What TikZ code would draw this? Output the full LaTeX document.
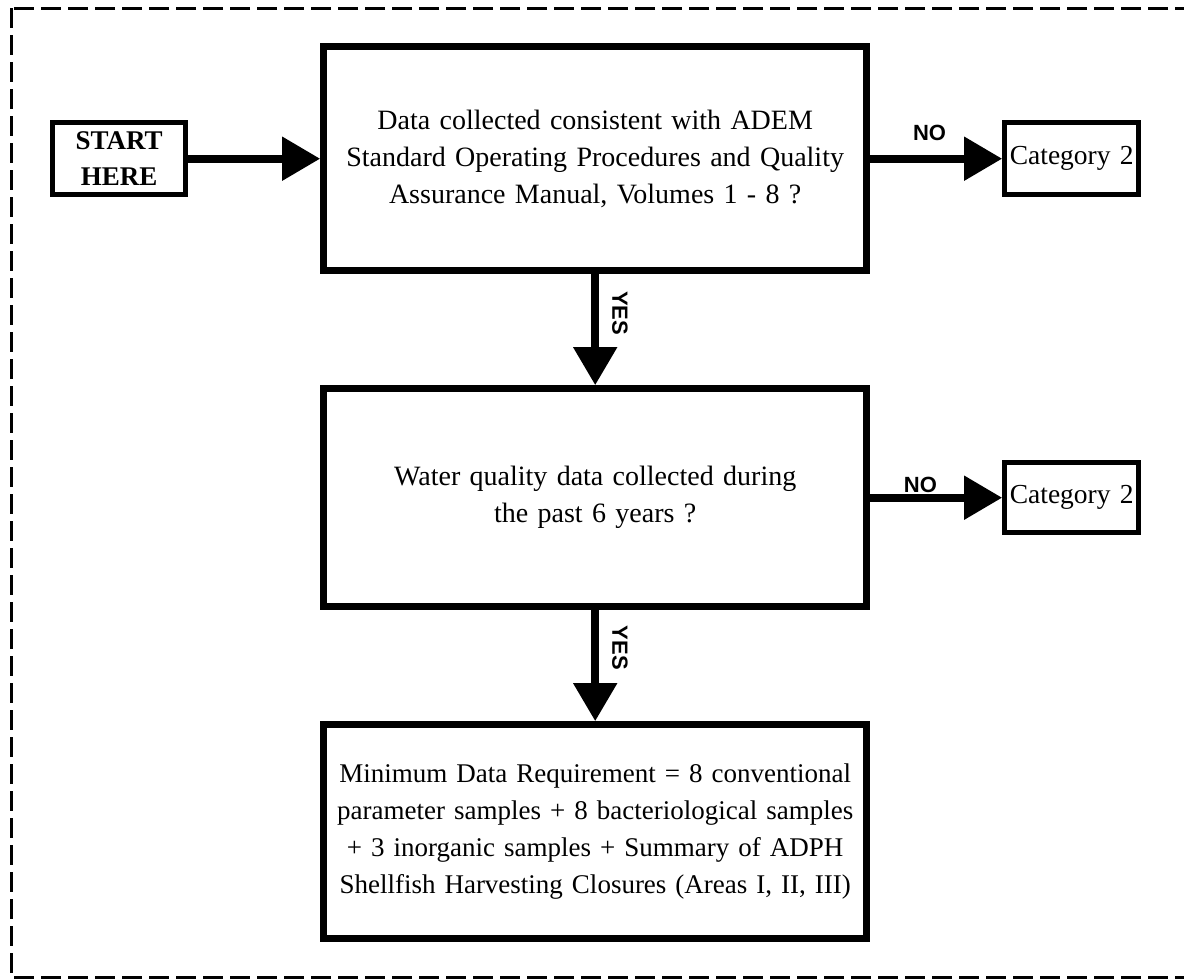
\documentclass[tikz,border=0pt]{standalone}
\usepackage{fontspec}
\setmainfont{Liberation Serif}
\newfontfamily\labelfont{Liberation Sans}
\usepackage{tikz}
\usetikzlibrary{matrix}
\usetikzlibrary{arrows.meta}

\tikzset{
  bigbox/.style={draw, line width=7pt, minimum width=543pt, text width=536pt,
    align=center, inner sep=0pt, font=\fontsize{28}{37}\selectfont},
  smallbox/.style={draw, line width=5pt, minimum width=134pt, minimum height=72pt,
    text width=130pt, align=center, inner sep=0pt, font=\fontsize{27.5}{36}\selectfont},
  startbox/.style={smallbox, minimum width=133pt, font=\bfseries\fontsize{27}{36}\selectfont},
  flowlabel/.style={inner sep=0pt, font=\labelfont\bfseries\fontsize{22}{22}\selectfont},
  frame/.style={line width=3pt, dash pattern=on 20pt off 7pt}
}

\begin{document}
\begin{tikzpicture}[x=1pt, y=-1pt, >={Triangle[length=38pt,width=42pt]}, sloped]
            \useasboundingbox (0,0) rectangle (1184,980);
            \draw[frame] (11,8) rectangle (1200,977);
            \matrix (chart) [%
              matrix of nodes,
              nodes={anchor=center},
              inner sep=0pt,
              column sep=132pt,
              row sep=111pt,
              anchor=north west,
              ampersand replacement=\&
            ] at (50,43)
                  {
              |[startbox]| {START\par HERE}
                \& |[bigbox, minimum height=224pt]| {Data collected consistent with ADEM\par Standard Operating Procedures and Quality\par Assurance Manual, Volumes 1 - 8 ?}
                \& |[smallbox]| {Category 2} \\
                \& |[bigbox, minimum height=218pt]| {Water quality data collected during\par the past 6 years ?}
                \& |[smallbox, minimum height=70pt]| {Category 2} \\
                \& |[bigbox, minimum height=214pt, font=\fontsize{27}{37}\selectfont]| {Minimum Data Requirement = 8 conventional\par parameter samples + 8 bacteriological samples\par + 3 inorganic samples + Summary of ADPH\par Shellfish Harvesting Closures (Areas I, II, III)}
                \& \\
            };
            \draw[->, line width=8pt] (chart-1-1) -- (chart-1-2) ;
            \draw[->, line width=8pt] (chart-1-2) -- (chart-1-3) node [pos=0.45, above=14pt, flowlabel]{NO} ;
            \draw[->, line width=8pt] (chart-2-2) -- (chart-2-3) node [pos=0.38, above=1pt, flowlabel]{NO} ;
            \draw[->, line width=8pt] (chart-1-2) -- (chart-2-2) node [pos=0.35, above=13pt, flowlabel]{YES} ;
            \draw[->, line width=8pt] (chart-2-2) -- (chart-3-2) node [pos=0.34, above=13pt, flowlabel]{YES} ;
        \end{tikzpicture}
\end{document}
